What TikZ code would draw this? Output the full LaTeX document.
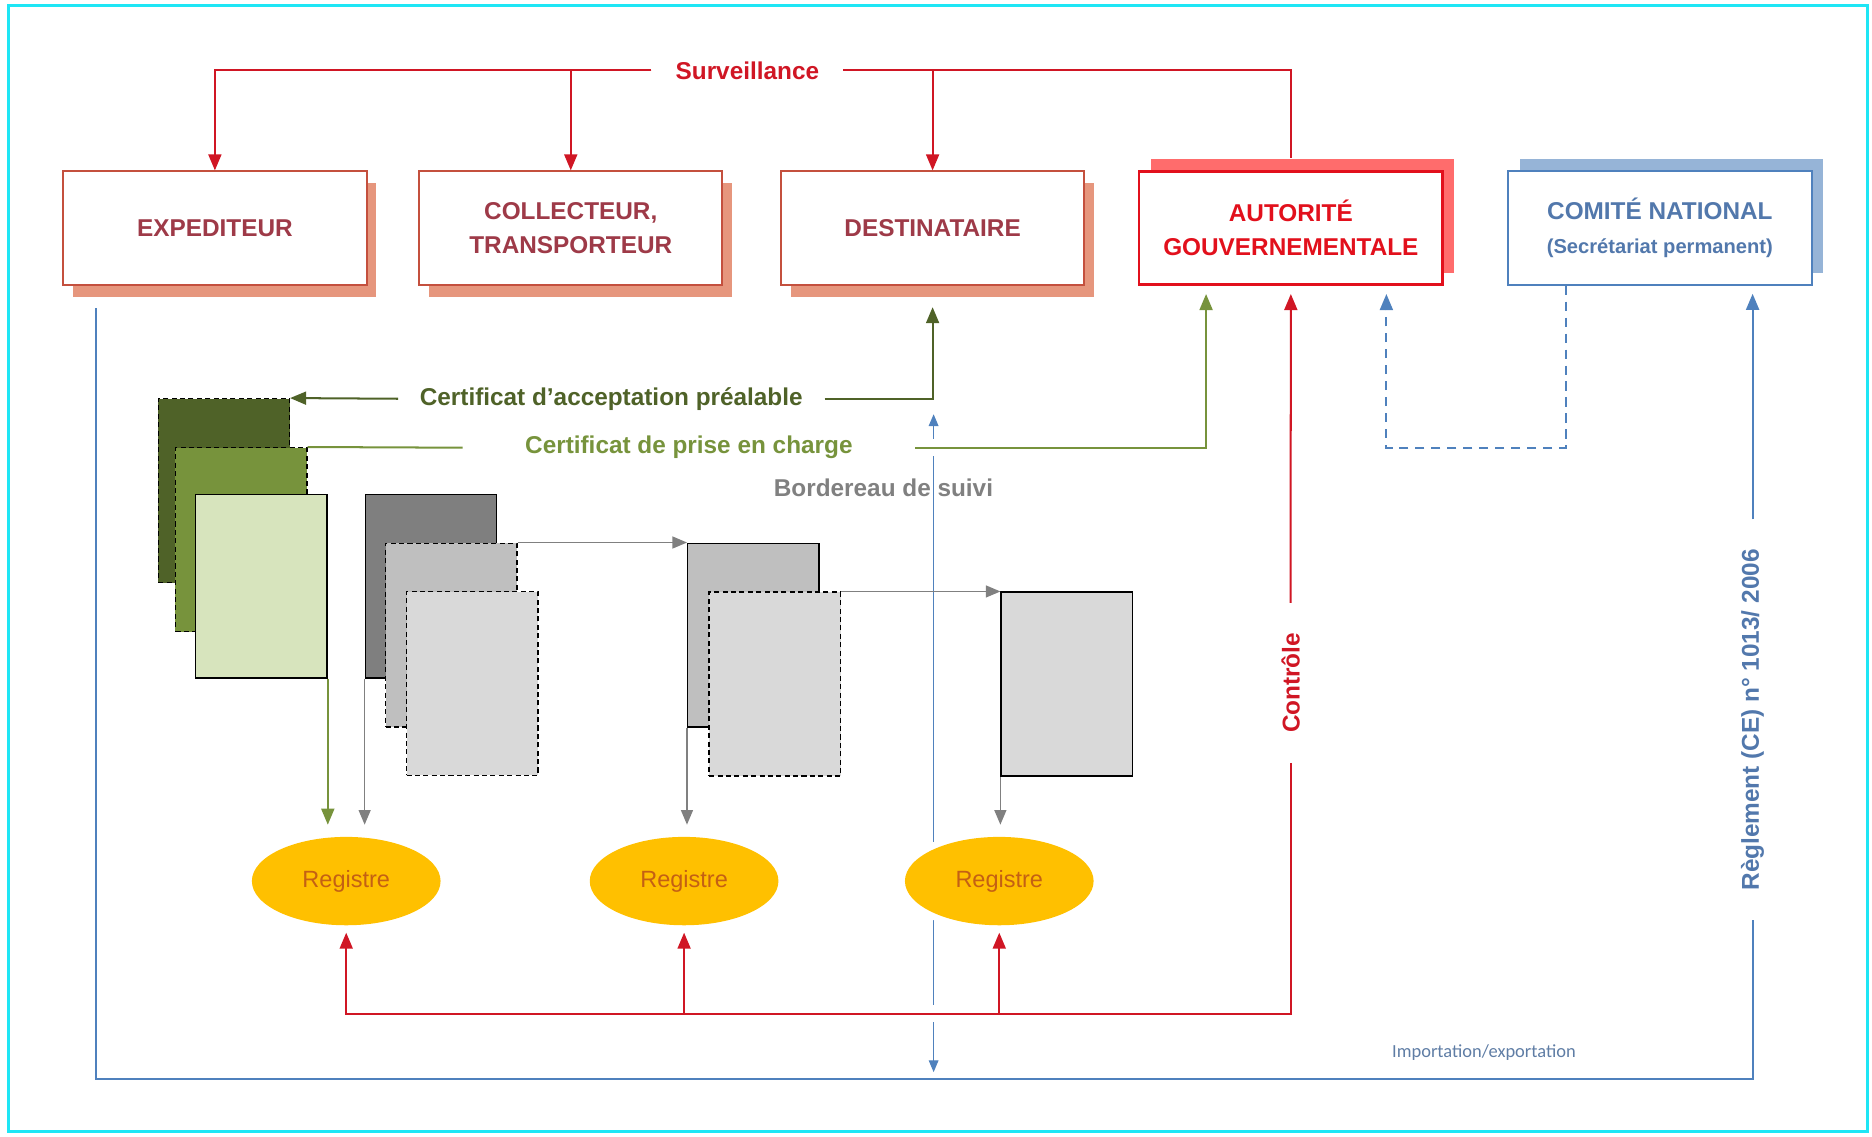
\documentclass[tikz,border=0pt]{standalone}
\usepackage{fontspec}
\setmainfont{Liberation Sans}
\newfontfamily\calibri{Carlito}
\usepackage{tikz}
\usetikzlibrary{shapes.geometric, arrows, shadows, backgrounds}
\definecolor{survred}{RGB}{208,22,36}
\definecolor{boxred}{RGB}{196,80,62}
\definecolor{boxtext}{RGB}{158,58,72}
\definecolor{boxshadow}{RGB}{230,150,125}
\definecolor{autred}{RGB}{226,16,28}
\definecolor{autshadow}{RGB}{255,108,108}
\definecolor{comblue}{RGB}{79,129,189}
\definecolor{comtext}{RGB}{82,120,172}
\definecolor{comshadow}{RGB}{150,180,215}
\definecolor{dkgreen}{RGB}{79,98,40}
\definecolor{midgreen}{RGB}{119,147,60}
\definecolor{ltgreen}{RGB}{215,228,189}
\definecolor{dkgray}{RGB}{127,127,127}
\definecolor{mdgray}{RGB}{191,191,191}
\definecolor{ltgray}{RGB}{217,217,217}
\definecolor{gold}{RGB}{255,192,0}
\definecolor{regtext}{RGB}{196,96,20}
\definecolor{framecyan}{RGB}{30,230,245}
\definecolor{arrowgray}{RGB}{128,128,128}
\definecolor{imptext}{RGB}{95,125,165}
\tikzstyle{box} = [rectangle, minimum width=6.35cm, minimum height=2.375cm, text centered, align=center, fill=white, font=\fontsize{14.5}{20.5}\selectfont\bfseries]
\tikzstyle{actor} = [box, draw=boxred, line width=1.2pt, text=boxtext, general shadow={fill=boxshadow, shadow xshift=0.2cm, shadow yshift=-0.25cm}]
\tikzstyle{authority} = [box, draw=autred, line width=1.5pt, text=autred, general shadow={fill=autshadow, shadow xshift=0.25cm, shadow yshift=0.25cm}]
\tikzstyle{committee} = [box, draw=comblue, line width=1.2pt, text=comtext, general shadow={fill=comshadow, shadow xshift=0.25cm, shadow yshift=0.25cm}]
\tikzstyle{doc} = [rectangle, minimum width=2.75cm, minimum height=3.85cm, draw=black, line width=0.8pt, inner sep=0]
\tikzstyle{dashdoc} = [doc, dash pattern=on 3pt off 2pt]
\tikzstyle{registre} = [ellipse, minimum width=3.95cm, minimum height=1.85cm, inner sep=0, fill=gold, text=regtext, font=\fontsize{14}{16}\selectfont, preaction={draw=white, line width=8pt}]
\tikzstyle{linetext} = [font=\fontsize{14.5}{17}\selectfont\bfseries, inner ysep=1pt]
\tikzstyle{halo} = [preaction={draw=white, line width=10pt, -}]
\tikzstyle{redline} = [draw=survred, line width=1.2pt]
\tikzstyle{redarrow} = [redline, ->, >=triangle 45]
\tikzstyle{dgarrow} = [draw=dkgreen, line width=1.2pt, ->, >=triangle 45]
\tikzstyle{mgline} = [draw=midgreen, line width=1.2pt]
\tikzstyle{mgarrow} = [mgline, ->, >=triangle 45]
\tikzstyle{grayarrow} = [draw=arrowgray, line width=1pt, ->, >=triangle 45]
\tikzstyle{blueline} = [draw=comblue, line width=1.2pt]
\tikzstyle{bluearrow} = [blueline, ->, >=triangle 45]
\tikzstyle{bluedash} = [blueline, dash pattern=on 5.5pt off 4pt, ->, >=triangle 45]
\tikzstyle{thinblue} = [draw=comblue, line width=0.6pt, <->, >=triangle 45]

\begin{document}
\begin{tikzpicture}[x=0.025cm, y=-0.025cm, node distance=7.5cm]
\useasboundingbox (0,0) rectangle (1568,952);
\draw [framecyan, line width=1.8pt] (7,5) rectangle (1564,948);

% acteurs
\node (expediteur) [actor] at (180,191) {EXPEDITEUR};
\node (collecteur) [actor, right of=expediteur, xshift=-0.05cm] {COLLECTEUR,\\TRANSPORTEUR};
\node (destinataire) [actor, right of=collecteur, xshift=0.075cm] {DESTINATAIRE};
\node (autorite) [authority, right of=destinataire] {AUTORITÉ\\GOUVERNEMENTALE};
\node (comite) [committee, right of=autorite, xshift=0.225cm] {COMITÉ NATIONAL\\{\fontsize{12}{14}\selectfont (Secrétariat permanent)}};

% documents
\node (accdoc) [dashdoc, fill=dkgreen] at (187.5,411) {};
\node (pecdoc) [dashdoc, fill=midgreen] at (202,452) {};
\node (expdoc) [doc, fill=ltgreen] at (219,491) {};
\node (bsd1) [doc, fill=dkgray] at (361,491) {};
\node (bsd2) [dashdoc, fill=mdgray] at (378,532) {};
\node (bsd3) [dashdoc, fill=ltgray] at (395.5,572.5) {};
\node (bsd4) [doc, fill=mdgray] at (631,532) {};
\node (bsd5) [dashdoc, fill=ltgray] at (649,573) {};
\node (bsd6) [doc, fill=ltgray] at (893.5,573) {};

% registres
\node (reg1) [registre] at (290,738) {Registre};
\node (reg2) [registre] at (573,738) {Registre};
\node (reg3) [registre] at (837,738) {Registre};

% textes sur les liaisons
\node (surv) [linetext, text=survred, inner xsep=0.5cm] at (626,59) {Surveillance};
\node (accept) [linetext, text=dkgreen, inner xsep=0.45cm] at (512,334) {Certificat d’acceptation préalable};
\node (prise) [linetext, text=midgreen, inner xsep=1.3cm] at (577,375) {Certificat de prise en charge};
\node (bordereau) [linetext, text=arrowgray] at (740,409) {Bordereau de suivi};
\node (controle) [linetext, text=survred, rotate=90, inner xsep=0.62cm] at (1081,572) {Contrôle};
\node (reglement) [linetext, text=comtext, rotate=90, inner xsep=0.62cm] at (1468,603) {Règlement (CE) n° 1013/ 2006};
\node (impexp) [font=\calibri\fontsize{11}{13}\selectfont, text=imptext] at (1243,882) {Importation/exportation};

\coordinate (impstart) at (80,258);
\coordinate (impcorner) at (1468,904);
\coordinate (bordtop) at (782,347);
\coordinate (bordbot) at (782,898);
\coordinate (ctrlbase) at (289,849);
\coordinate (cnout) at ([xshift=-1.975cm]comite.south);
\coordinate (autin) at ([xshift=2cm]autorite.south);
\coordinate (pecin) at ([xshift=-1.775cm]autorite.south);

% surveillance
\draw [redarrow] (surv.west) -| (expediteur.north);
\draw [redarrow] (surv.west) -| (collecteur.north);
\draw [redarrow] (surv.east) -| (destinataire.north);
\draw [redline, shorten >=0.25cm] (surv.east) -| (autorite.north);

% certificats
\draw [dgarrow] (accept.west) -- (accdoc.north east);
\draw [dgarrow, shorten >=0.45cm] (accept.east) -| (destinataire.south);
\draw [mgline] (prise.west) -- (pecdoc.north east);
\draw [mgarrow, halo, shorten >=0.17cm] (prise.east) -| (pecin);

% bordereaux
\draw [grayarrow] (bsd2.north east) -- (bsd4.north west);
\draw [grayarrow] (bsd5.north east) -- (bsd6.north west);
\draw [mgarrow, shorten >=0.25cm] (expdoc.south east) -- (expdoc.south east |- reg1.north);
\draw [grayarrow, shorten >=0.25cm] (bsd1.south west) -- (bsd1.south west |- reg1.north);
\draw [grayarrow, shorten >=0.25cm] (bsd4.south west) -- (bsd4.south west |- reg2.north);
\draw [grayarrow, shorten >=0.25cm] (bsd6.south west) -- (bsd6.south west |- reg3.north);

% controle
\draw [redarrow, shorten >=0.17cm] (controle.east) -- (autorite.south);
\draw [redline, halo] (controle.west) |- (ctrlbase);
\draw [redarrow, shorten >=0.15cm] (reg1.south |- ctrlbase) -- (reg1.south);
\draw [redarrow, shorten >=0.15cm] (reg2.south |- ctrlbase) -- (reg2.south);
\draw [redarrow, shorten >=0.15cm] (reg3.south |- ctrlbase) -- (reg3.south);

% comite national
\draw [bluedash, shorten >=0.17cm] (cnout) -- (cnout |- prise) -| (autin);
\draw [blueline] (impstart) |- (impcorner) -- (reglement.west);
\draw [bluearrow, shorten >=0.17cm] (reglement.east) -- (reglement.east |- comite.south);

\begin{pgfonlayer}{background}
\draw [thinblue] (bordtop) -- (bordbot);
\end{pgfonlayer}
\end{tikzpicture}
\end{document}
